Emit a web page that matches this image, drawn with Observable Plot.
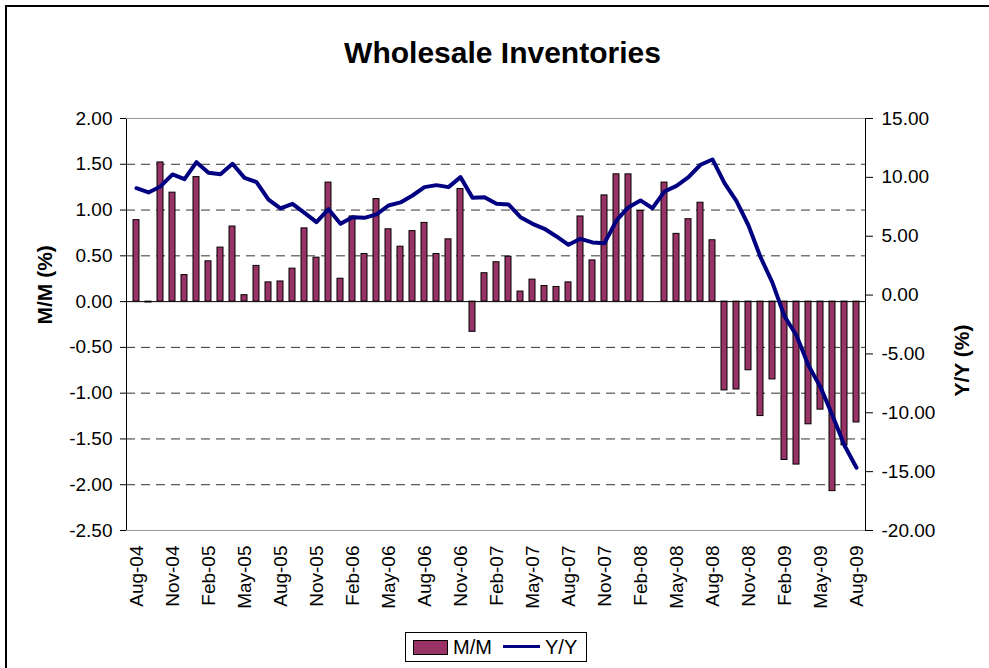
<!DOCTYPE html>
<html>
<head>
<meta charset="utf-8">
<script src="https://cdn.jsdelivr.net/npm/d3@7"></script>
<script src="https://cdn.jsdelivr.net/npm/@observablehq/plot@0.6"></script>
<style>
  html, body { margin: 0; padding: 0; background: #fff; }
  body { width: 989px; height: 668px; position: relative; overflow: hidden; font-family: "Liberation Sans", Arial, sans-serif; }
  #border { position: absolute; left: 5px; top: 5px; width: 1100px; height: 800px; border: 2px solid #000; box-sizing: border-box; }
  #title { position: absolute; left: 0; width: 1005px; top: 35px; text-align: center; font-size: 30px; font-weight: bold; line-height: 36px; color: #000; }
  #chart { position: absolute; left: 0; top: 80px; }
  #legend { position: absolute; left: 405px; top: 632px; width: 182px; height: 30px; border: 1px solid #000; box-sizing: border-box; background: #fff; font-size: 20px; }
  #legend .sw { position: absolute; left: 7px; top: 7px; width: 35px; height: 15px; background: #993366; border: 1px solid #000; box-sizing: border-box; }
  #legend .t1 { position: absolute; left: 47px; top: 3px; line-height: 22px; }
  #legend .ln { position: absolute; left: 97px; top: 12px; width: 37px; height: 3px; background: #000080; }
  #legend .t2 { position: absolute; left: 139px; top: 3px; line-height: 22px; }
</style>
</head>
<body>
<div id="border"></div>
<div id="title">Wholesale Inventories</div>
<div id="chart"></div>
<div id="legend"><div class="sw"></div><span class="t1">M/M</span><div class="ln"></div><span class="t2">Y/Y</span></div>
<script>
const months = [
  "Aug-04","Sep-04","Oct-04","Nov-04","Dec-04","Jan-05","Feb-05","Mar-05","Apr-05","May-05","Jun-05","Jul-05",
  "Aug-05","Sep-05","Oct-05","Nov-05","Dec-05","Jan-06","Feb-06","Mar-06","Apr-06","May-06","Jun-06","Jul-06",
  "Aug-06","Sep-06","Oct-06","Nov-06","Dec-06","Jan-07","Feb-07","Mar-07","Apr-07","May-07","Jun-07","Jul-07",
  "Aug-07","Sep-07","Oct-07","Nov-07","Dec-07","Jan-08","Feb-08","Mar-08","Apr-08","May-08","Jun-08","Jul-08",
  "Aug-08","Sep-08","Oct-08","Nov-08","Dec-08","Jan-09","Feb-09","Mar-09","Apr-09","May-09","Jun-09","Jul-09",
  "Aug-09"
];
const xTickLabels = ["Aug-04","Nov-04","Feb-05","May-05","Aug-05","Nov-05","Feb-06","May-06","Aug-06","Nov-06",
  "Feb-07","May-07","Aug-07","Nov-07","Feb-08","May-08","Aug-08","Nov-08","Feb-09","May-09","Aug-09"];
const mm = [
  0.89, -0.01, 1.52, 1.19, 0.29, 1.36, 0.44, 0.59, 0.82, 0.07, 0.39, 0.21,
  0.22, 0.36, 0.80, 0.48, 1.30, 0.25, 0.93, 0.52, 1.12, 0.79, 0.60, 0.77,
  0.86, 0.52, 0.68, 1.23, -0.33, 0.31, 0.43, 0.49, 0.11, 0.24, 0.17, 0.16,
  0.21, 0.93, 0.45, 1.16, 1.39, 1.39, 0.99, 0.00, 1.30, 0.74, 0.90, 1.08,
  0.67, -0.97, -0.96, -0.75, -1.25, -0.85, -1.73, -1.78, -1.34, -1.18, -2.07, -1.57,
  -1.32
];
const yy = [
  9.08, 8.72, 9.23, 10.25, 9.85, 11.29, 10.39, 10.27, 11.15, 9.96, 9.60, 8.10,
  7.36, 7.75, 6.99, 6.20, 7.30, 6.05, 6.62, 6.56, 6.85, 7.61, 7.87, 8.46,
  9.17, 9.34, 9.17, 10.02, 8.27, 8.32, 7.76, 7.70, 6.62, 6.05, 5.63, 4.98,
  4.27, 4.78, 4.47, 4.41, 6.34, 7.47, 8.04, 7.38, 8.80, 9.28, 10.02, 11.07,
  11.52, 9.51, 7.98, 5.91, 3.22, 1.04, -1.80, -3.43, -5.98, -7.82, -10.23, -12.78,
  -14.67
];
const leftTicks = [-2.5, -2.0, -1.5, -1.0, -0.5, 0, 0.5, 1.0, 1.5, 2.0];
const rightTicks = [-20, -15, -10, -5, 0, 5, 10, 15];
const leftDomain = [-2.5, 2.0];
const rightDomain = [-20, 15];
const leftTitle = ["M/M (%)"];
const rightTitle = ["Y/Y (%)"];

// map right-axis values onto the left scale's domain
const toLeft = v => leftDomain[0] + (v - rightDomain[0]) * (leftDomain[1] - leftDomain[0]) / (rightDomain[1] - rightDomain[0]);
const toRight = d => rightDomain[0] + (d - leftDomain[0]) * (rightDomain[1] - rightDomain[0]) / (leftDomain[1] - leftDomain[0]);

const data = months.map((m, i) => ({month: m, mm: mm[i], yy: yy[i], yyL: toLeft(yy[i])}));
const gridVals = leftTicks.filter(v => v !== 0 && v !== leftDomain[0] && v !== leftDomain[1]);

const chart = Plot.plot({
  width: 989,
  height: 540,
  marginTop: 38,
  marginBottom: 90,
  marginLeft: 126,
  marginRight: 124,
  style: {fontFamily: "'Liberation Sans', Arial, sans-serif", fontSize: "19px", color: "#000", background: "transparent", overflow: "visible"},
  x: {type: "band", domain: months, paddingInner: 0.5, paddingOuter: 0.25},
  y: {domain: leftDomain},
  marks: [
    Plot.ruleY(gridVals, {stroke: "#333", strokeDasharray: "9,6", strokeWidth: 1}),
    Plot.barY(data, {x: "month", y: "mm", fill: "#993366", stroke: "#000", strokeWidth: 1}),
    Plot.ruleY([0], {stroke: "#000", strokeWidth: 1}),
    Plot.line(data, {x: "month", y: "yyL", stroke: "#000080", strokeWidth: 4, strokeLinejoin: "round"}),
    Plot.frame({stroke: "#000"}),
    Plot.ruleY(leftDomain, {stroke: "#999"}),
    Plot.axisY({anchor: "left", ticks: leftTicks, tickFormat: d => d.toFixed(2), tickSize: 6, tickPadding: 8, label: null}),
    Plot.axisY({anchor: "right", ticks: rightTicks.map(toLeft), tickFormat: d => (Math.round(toRight(d)) + 0).toFixed(2), tickSize: 7, tickPadding: 9, label: null}),
    Plot.axisX({ticks: xTickLabels, tickRotate: -90, tickSize: 0, tickPadding: 15, label: null}),
    Plot.text(leftTitle, {frameAnchor: "left", dx: -81, rotate: -90, text: d => d, fontWeight: "bold", fontSize: 21}),
    Plot.text(rightTitle, {frameAnchor: "right", dx: 97, rotate: -90, text: d => d, fontWeight: "bold", fontSize: 21})
  ]
});
document.getElementById("chart").appendChild(chart);
</script>
</body>
</html>
